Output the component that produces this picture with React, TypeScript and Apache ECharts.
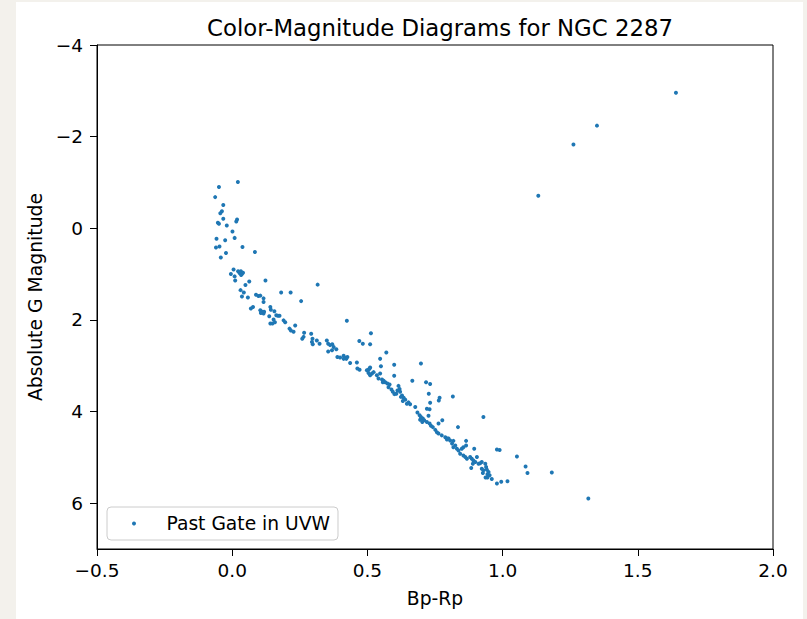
import React, { useEffect, useRef } from "react";
import * as echarts from "echarts";

const chartTitle = "Color-Magnitude Diagrams for NGC 2287";
const xLabel = "Bp-Rp";
const yLabel = "Absolute G Magnitude";
const seriesName = "Past Gate in UVW";
const xTicks = [-0.5, 0, 0.5, 1, 1.5, 2];
const yTicks = [-4, -2, 0, 2, 4, 6];

const bpRp = [
  0.021, -0.049, -0.063, -0.033, -0.038, -0.044, -0.033, 0.018, 0.015, -0.053,
  -0.049, -0.02, 0.001, 0.009, -0.058, -0.026, -0.047, -0.06, 0.038, -0.023,
  0.084, -0.042, 0.005, 0.022, 0.032, 0.036, 0.028, 0.04, 0.033, -0.005,
  0.009, 0.011, 0.063, 0.123, 0.049, 0.031, 0.043, 0.088, 0.097, 0.104,
  0.181, 0.216, 0.036, 0.058, 0.116, 0.116, 0.255, 0.316,
  0.077, 0.069, 0.104, 0.111, 0.116, 0.106, 0.118, 0.141, 0.143, 0.156,
  0.137, 0.163, 0.169, 0.175, 0.153, 0.141, 0.149, 0.158, 0.19, 0.196,
  0.233, 0.212, 0.217, 0.227, 0.424, 0.266, 0.264, 0.259, 0.292, 0.297,
  0.295, 0.298, 0.313, 0.323, 0.35, 0.355, 0.362, 0.37, 0.375, 0.369,
  0.355, 0.385, 0.389, 0.399, 0.412, 0.418, 0.426, 0.422, 0.412, 0.513,
  0.47, 0.483, 0.51, 0.57, 0.461, 0.463, 0.471, 0.547, 0.55, 0.51,
  0.504, 0.599, 0.436,
  0.498, 0.508, 0.504, 0.517, 0.523, 0.51, 0.535, 0.541,
  0.698, 0.547, 0.599, 0.554, 0.56, 0.566, 0.557, 0.574, 0.582, 0.578,
  0.666, 0.717, 0.732, 0.615, 0.619, 0.611, 0.621, 0.607, 0.589, 0.594,
  0.6, 0.628, 0.634, 0.64, 0.631, 0.624, 0.652, 0.658, 0.646, 0.727,
  0.767, 0.764, 0.732, 0.816, 0.677, 0.72, 0.73, 0.685, 0.693, 0.698,
  0.705, 0.695, 0.71, 0.703, 0.726, 0.72, 0.73, 0.735, 0.742, 0.763,
  0.777, 0.751, 0.757, 0.763, 0.835, 0.929, 0.775, 0.788, 0.796,
  0.794, 0.8, 0.806, 0.818, 0.813, 0.825, 0.818, 0.831, 0.837, 0.849,
  0.855, 0.865, 0.865, 0.843, 0.855, 0.862, 0.868, 0.88,
  0.895, 0.979, 0.989, 1.053, 0.886, 0.892, 0.899, 0.905, 0.89, 0.911,
  0.917, 0.923, 0.936, 0.884, 0.923, 0.929, 0.927, 0.939, 0.942, 0.948,
  0.944, 0.952, 0.937, 0.944, 0.96, 0.979, 0.995, 1.018, 1.085, 1.092,
  1.182, 1.317,
  1.641, 1.349, 1.262, 1.132,
];

const absG = [
  -1.01, -0.9, -0.68, -0.51, -0.37, -0.33, -0.21, -0.19, -0.15, -0.12,
  -0.1, -0.06, 0.07, 0.21, 0.23, 0.26, 0.4, 0.42, 0.41, 0.54,
  0.52, 0.64, 0.9, 0.94, 0.94, 1.0, 0.98, 0.97, 1.02, 1.0,
  1.05, 1.14, 1.16, 1.14, 1.24, 1.35, 1.4, 1.45, 1.48, 1.47,
  1.4, 1.4, 1.49, 1.51, 1.53, 1.61, 1.59, 1.23,
  1.72, 1.75, 1.79, 1.82, 1.86, 1.85, 1.82, 1.72, 1.78, 1.81,
  1.92, 1.9, 1.91, 1.91, 1.99, 2.08, 2.08, 2.05, 2.01, 2.05,
  2.12, 2.19, 2.23, 2.26, 2.02, 2.28, 2.37, 2.41, 2.3, 2.41,
  2.48, 2.53, 2.45, 2.52, 2.45, 2.52, 2.55, 2.53, 2.59, 2.66,
  2.69, 2.64, 2.81, 2.82, 2.78, 2.83, 2.81, 2.85, 2.85, 2.29,
  2.46, 2.52, 2.53, 2.71, 2.93, 3.06, 3.09, 2.85, 3.01, 3.04,
  3.09, 2.98, 2.94,
  3.1, 3.06, 3.16, 3.17, 3.14, 3.21, 3.21, 3.28,
  2.95, 3.17, 3.22, 3.3, 3.33, 3.36, 3.36, 3.39, 3.41, 3.47,
  3.33, 3.36, 3.4, 3.44, 3.51, 3.54, 3.57, 3.61, 3.52, 3.57,
  3.62, 3.65, 3.7, 3.74, 3.77, 3.68, 3.8, 3.84, 3.83, 3.61,
  3.7, 3.76, 3.81, 3.67, 3.9, 3.94, 3.95, 4.02, 4.08, 4.12,
  4.15, 4.18, 4.19, 4.23, 4.09, 4.23, 4.26, 4.31, 4.34, 4.26,
  4.19, 4.4, 4.45, 4.48, 4.34, 4.12, 4.52, 4.56, 4.59,
  4.61, 4.59, 4.63, 4.64, 4.7, 4.74, 4.78, 4.81, 4.85, 4.81,
  4.78, 4.64, 4.74, 4.92, 4.96, 4.99, 5.03, 4.99,
  4.81, 4.83, 4.84, 4.98, 5.03, 5.07, 5.1, 4.99, 5.14, 5.14,
  5.13, 5.1, 5.14, 5.23, 5.25, 5.28, 5.34, 5.21, 5.27, 5.32,
  5.37, 5.39, 5.44, 5.44, 5.47, 5.57, 5.53, 5.52, 5.2, 5.34,
  5.33, 5.9,
  -2.96, -2.24, -1.83, -0.71,
];

const FONT = "DejaVu Sans";
const fmt = (v: number, d: number) =>
  (v < 0 ? "\u2212" : "") + Math.abs(v).toFixed(d);

export default function App() {
  const ref = useRef<HTMLDivElement>(null);
  useEffect(() => {
    document.body.style.margin = "0";
    const chart = echarts.init(ref.current!, null, { renderer: "svg" });
    const points = bpRp.map((x, i) => [x, absG[i]]);
    chart.setOption({
      animation: false,
      textStyle: { fontFamily: FONT, color: "#000" },
      title: {
        text: chartTitle,
        left: 435,
        top: 11,
        textAlign: "center",
        textStyle: { fontSize: 22.8, fontWeight: "normal", color: "#000", fontFamily: FONT },
      },
      grid: {
        left: 97,
        top: 45,
        width: 676,
        height: 504,
        show: true,
        borderColor: "#000",
        borderWidth: 1,
        backgroundColor: "transparent",
      },
      legend: {
        left: 107,
        top: 507,
        itemWidth: 25,
        itemHeight: 4,
        itemGap: 0,
        padding: [7, 8, 7, 25],
        borderColor: "#cccccc",
        borderWidth: 1,
        borderRadius: 4,
        backgroundColor: "rgba(255,255,255,0.8)",
        icon: "circle",
        textStyle: { fontSize: 18.7, color: "#000", fontFamily: FONT, padding: [0, 0, 0, 15] },
        data: [seriesName],
      },
      xAxis: {
        type: "value",
        min: -0.5,
        max: 2,
        interval: 0.5,
        name: xLabel,
        nameLocation: "middle",
        nameGap: 40,
        nameTextStyle: { fontSize: 18.7, color: "#000", fontFamily: FONT },
        axisLine: { show: true, onZero: false, lineStyle: { color: "#000", width: 1 } },
        axisTick: { show: true, inside: false, length: 7, lineStyle: { color: "#000", width: 1 }, customValues: xTicks },
        axisLabel: {
          customValues: xTicks,
          margin: 12,
          fontSize: 18.5,
          color: "#000",
          fontFamily: FONT,
          formatter: (v: number) => fmt(v, 1),
        },
        splitLine: { show: false },
      },
      yAxis: {
        type: "value",
        inverse: true,
        min: -4,
        max: 7,
        interval: 2,
        name: yLabel,
        nameLocation: "middle",
        nameGap: 49,
        nameTextStyle: { fontSize: 18.8, color: "#000", fontFamily: FONT },
        axisLine: { show: true, onZero: false, lineStyle: { color: "#000", width: 1 } },
        axisTick: { show: true, inside: false, length: 7, lineStyle: { color: "#000", width: 1 }, customValues: yTicks },
        axisLabel: {
          customValues: yTicks,
          margin: 14,
          fontSize: 18.5,
          color: "#000",
          fontFamily: FONT,
          formatter: (v: number) => fmt(v, 0),
        },
        splitLine: { show: false },
      },
      series: [
        {
          name: seriesName,
          type: "scatter",
          data: points,
          symbol: "circle",
          symbolSize: 4,
          itemStyle: { color: "#1f77b4", opacity: 1 },
        },
      ],
    });
    return () => chart.dispose();
  }, []);

  return (
    <div style={{ position: "relative", width: 807, height: 619, background: "#f3f1ec", overflow: "hidden" }}>
      <div style={{ position: "absolute", left: 16, top: 2, width: 787, height: 617, background: "#fff" }} />
      <div ref={ref} style={{ position: "absolute", left: 0, top: 0, width: 807, height: 619 }} />
    </div>
  );
}
